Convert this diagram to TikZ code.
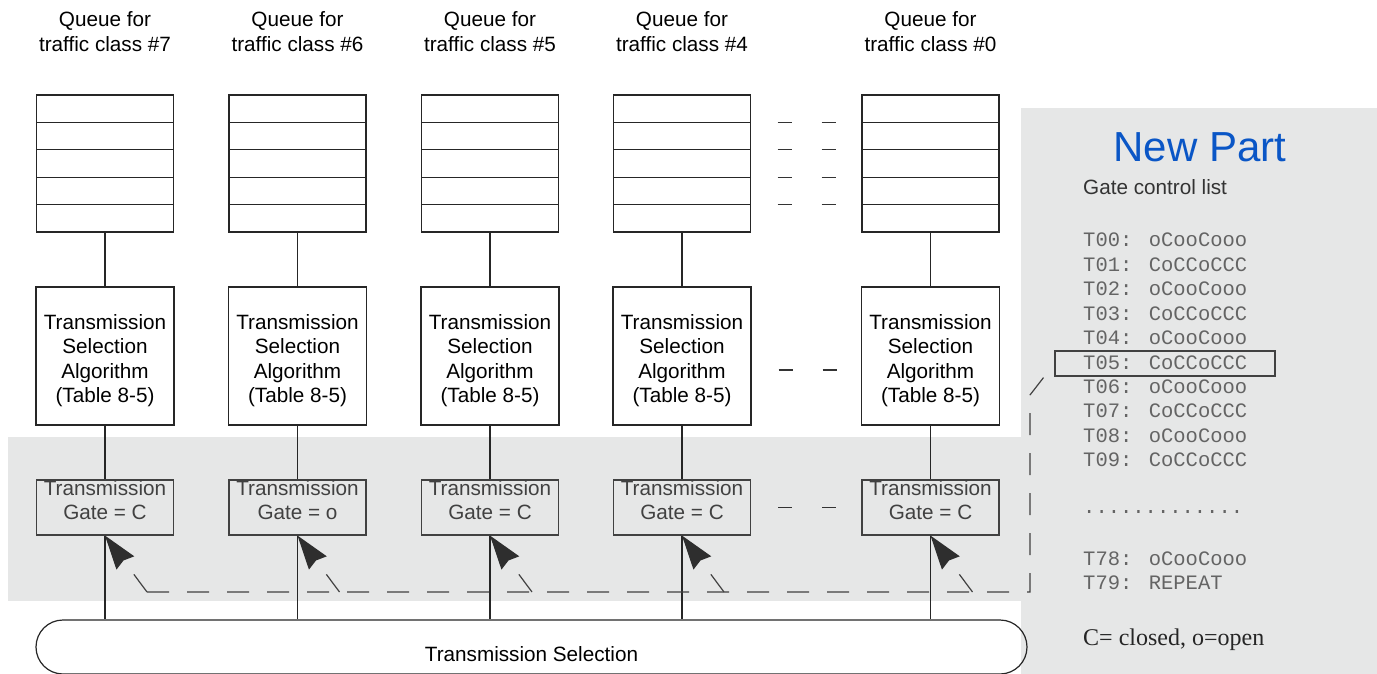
\documentclass[tikz,border=0pt]{standalone}
\usepackage{fontspec}
\setmainfont{Liberation Sans}
\newfontfamily\listfont{Liberation Mono}
\newfontfamily\notefont{Liberation Serif}
\usetikzlibrary{positioning,arrows.meta}
\definecolor{bandgray}{RGB}{230,231,231}
\definecolor{partblue}{RGB}{10,86,198}
\definecolor{listgray}{RGB}{100,100,100}
\definecolor{boxgray}{RGB}{65,65,65}

\begin{document}
\begin{tikzpicture}[x=1pt,y=-1pt,
	every node/.style={font=\fontsize{20.7}{24.5}\selectfont},
	cell/.style={draw=black!85,line width=1.2pt,minimum width=137pt,minimum height=27.4pt,inner sep=0pt,outer sep=0pt},
	algo/.style={draw=black!85,line width=1.2pt,minimum width=138pt,minimum height=138pt,inner sep=0pt},
	gatebox/.style={draw=boxgray,line width=1.2pt,minimum width=137pt,minimum height=55pt,inner sep=0pt},
	wire/.style={black!85,line width=1.1pt},
	ctrlline/.style={boxgray,line width=1.2pt,dash pattern=on 22pt off 18pt},
	ctrl/.style={ctrlline,-{Stealth[length=34pt,width=22pt,inset=3pt,color=black!82]}},
	skipdash/.style={black!80,line width=1.2pt,dash pattern=on 0pt off 27pt on 14pt off 30pt on 14pt off 60pt},
	listentry/.style={anchor=west,inner sep=0pt,text=listgray,font=\listfont\fontsize{20.5}{24}\selectfont}]
	\useasboundingbox (0,0) rectangle (1377,674);
	% grey areas
	\fill[bandgray] (8,437) rectangle (1021,601);
	\fill[bandgray] (1021,108) rectangle (1377,674);

	\node[draw=black!85,line width=1.2pt,rounded corners=27pt,minimum width=991pt,minimum height=54pt,
		text height=29pt,text depth=0pt,inner sep=0pt] (sel) at (531.5,647) {Transmission Selection};

	\foreach \n/\x/\c/\g in {1/105/7/C,2/297.5/6/o,3/490/5/C,4/682/4/C,5/930.5/0/C}{
		\node[align=center] (head\n) at (\x,31.5) {Queue for\\traffic class \#\c};
		\node[cell] (q\n-1) at (\x,108.7) {};
		\foreach \r [remember=\r as \p (initially 1)] in {2,...,5}
			\node[cell,below=0pt of q\n-\p] (q\n-\r) {};
		\node[algo,label={[align=center,yshift=-4.5pt]center:{Transmission\\Selection\\Algorithm\\(Table 8-5)}}] (tsa\n) at (\x,356) {};
		\node[gatebox,label={[align=center,text=boxgray,yshift=7.5pt]center:{Transmission\\Gate = \g}}] (gate\n) at (\x,507.5) {};
		\draw[wire] (q\n-5) -- (tsa\n);
		\draw[wire] (tsa\n) -- (gate\n);
		\draw[wire] (gate\n) -- (gate\n |- sel.north);
		\coordinate (foot\n) at (\x+42,592);
	}

	% gaps between #4 and #0
	\foreach \r in {1,...,4}
		\draw[skipdash] (q4-\r.south east) -- (q5-\r.south west);
	\draw[skipdash] ([yshift=-14pt]tsa4.east) -- ([yshift=-14pt]tsa5.west);
	\draw[skipdash] (gate4) -- (gate5);

	% new part
	\node[font=\fontsize{42}{48}\selectfont,text=partblue] (newpart) at (1200,147) {New Part};
	\node[anchor=west,inner sep=0pt,text=black!80] (gcl) at (1083,187) {Gate control list};
	\foreach \k/\s [count=\i from 0] in {00/oCooCooo,01/CoCCoCCC,02/oCooCooo,03/CoCCoCCC,04/oCooCooo,
		05/CoCCoCCC,06/oCooCooo,07/CoCCoCCC,08/oCooCooo,09/CoCCoCCC}
		\node[listentry] (t\k) at (1083,{240+24.45*\i}) {T\k: \s};
	\node[listentry] (dots) at (1083,512) {.............};
	\node[listentry] (t78) at (1083,559) {T78: oCooCooo};
	\node[listentry] (t79) at (1083,583) {T79: REPEAT};
	\node[anchor=west,inner sep=0pt,text=black!85,font=\notefont\fontsize{24}{28}\selectfont] (legend) at (1083,639.5) {C= closed, o=open};
	\node[draw=boxgray,line width=1.2pt,minimum width=220pt,minimum height=25pt,inner sep=0pt] (selbox) at (1165,363.5) {};

	% gate control
	\coordinate (corner) at (1030,592);
	\coordinate (bend) at (1030,395);
	\draw[ctrlline] (foot1) -- (corner) -- (bend) -- (selbox.west);
	\foreach \n in {1,...,5}
		\draw[ctrl] (foot\n) -- (gate\n.south);
\end{tikzpicture}
\end{document}
